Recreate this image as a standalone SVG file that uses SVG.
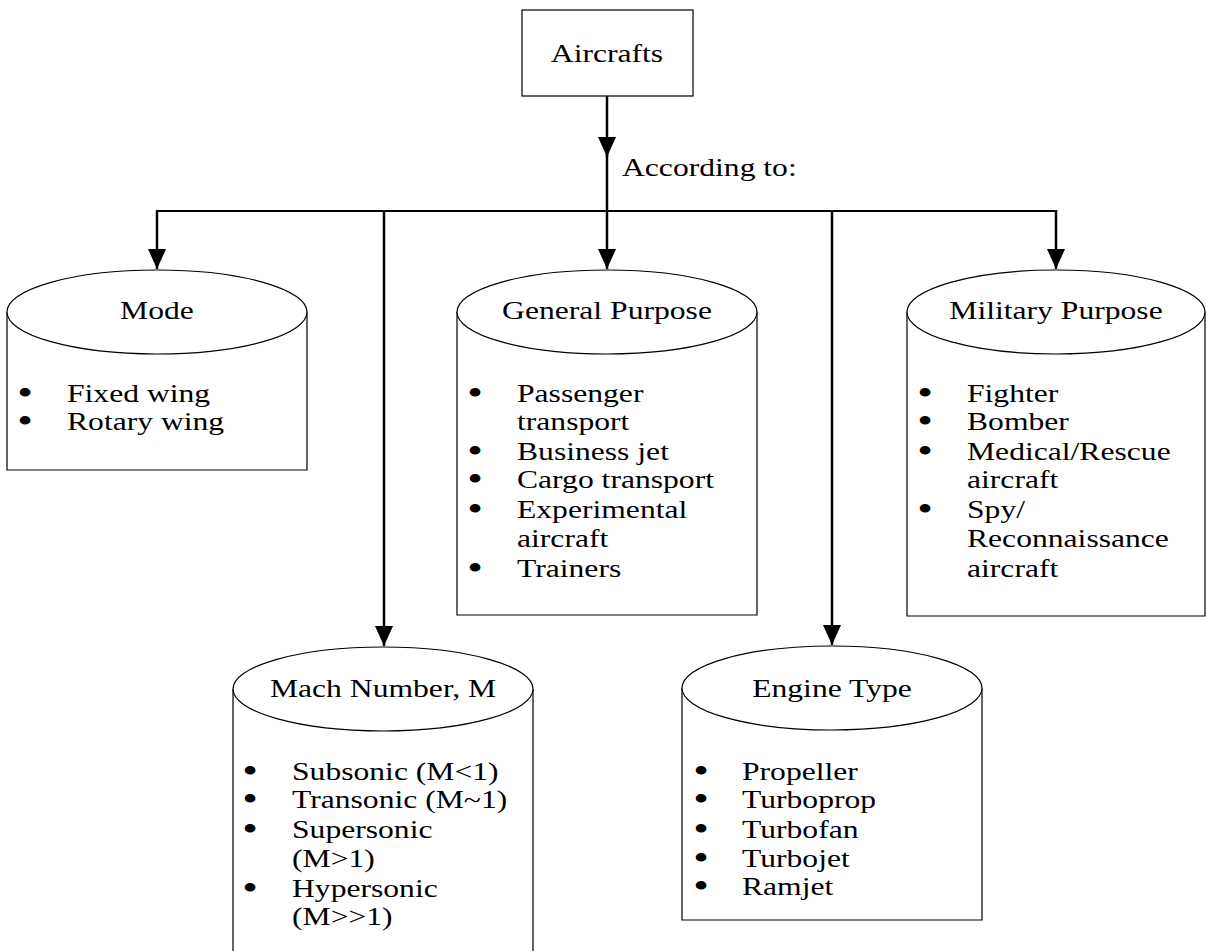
<svg xmlns="http://www.w3.org/2000/svg" width="1206" height="951" viewBox="0 0 1206 951">
<style>
text{font-family:"Liberation Serif","Times New Roman",serif;font-size:25.5px;fill:#000}
.c{text-anchor:middle}
.b{text-anchor:middle;font-size:36px}
.shape{fill:#fff;stroke:#000;stroke-width:1.2}
.conn{fill:none;stroke:#000;stroke-width:2.5}
.bus{fill:none;stroke:#000;stroke-width:2.2}
</style>
<defs>
<marker id="ah" viewBox="0 0 20 18" refX="20" refY="9" markerWidth="20" markerHeight="18" markerUnits="userSpaceOnUse" orient="auto">
<path d="M0,0 L20,9 L0,18 Z" fill="#000"/>
</marker>
</defs>
<rect width="1206" height="951" fill="#fff"/>

<g id="connectors">
<line class="conn" x1="607" y1="96" x2="607" y2="157" marker-end="url(#ah)"/>
<line class="conn" x1="607" y1="150" x2="607" y2="211"/>
<line class="bus" x1="156" y1="211" x2="1057" y2="211"/>
<line class="conn" x1="157" y1="210" x2="157" y2="269" marker-end="url(#ah)"/>
<line class="conn" x1="607" y1="210" x2="607" y2="269" marker-end="url(#ah)"/>
<line class="conn" x1="1056" y1="210" x2="1056" y2="269" marker-end="url(#ah)"/>
<line class="conn" x1="384" y1="210" x2="384" y2="646" marker-end="url(#ah)"/>
<line class="conn" x1="832" y1="210" x2="832" y2="645" marker-end="url(#ah)"/>
<text transform="translate(622,176) scale(1.24,1)">According to:</text>
</g>

<g id="aircrafts">
<rect class="shape" x="522" y="10" width="171" height="86"/>
<text class="c" transform="translate(607,62) scale(1.24,1)">Aircrafts</text>
</g>

<g id="mode">
<path class="shape" d="M7,312 L7,470 L307,470 L307,312"/>
<ellipse class="shape" cx="157" cy="312" rx="150" ry="42"/>
<text class="c" transform="translate(157,319) scale(1.24,1)">Mode</text>
<text class="b" transform="translate(25,405) scale(1.24,1)">•</text>
<text transform="translate(67,402) scale(1.24,1)">Fixed wing</text>
<text class="b" transform="translate(25,433) scale(1.24,1)">•</text>
<text transform="translate(67,430) scale(1.24,1)">Rotary wing</text>
</g>

<g id="general">
<path class="shape" d="M457,312 L457,615 L757,615 L757,312"/>
<ellipse class="shape" cx="607" cy="312" rx="150" ry="42"/>
<text class="c" transform="translate(607,319) scale(1.24,1)">General Purpose</text>
<text class="b" transform="translate(475,405) scale(1.24,1)">•</text>
<text transform="translate(517,402) scale(1.24,1)">Passenger</text>
<text transform="translate(517,430) scale(1.24,1)">transport</text>
<text class="b" transform="translate(475,463) scale(1.24,1)">•</text>
<text transform="translate(517,460) scale(1.24,1)">Business jet</text>
<text class="b" transform="translate(475,491) scale(1.24,1)">•</text>
<text transform="translate(517,488) scale(1.24,1)">Cargo transport</text>
<text class="b" transform="translate(475,521) scale(1.24,1)">•</text>
<text transform="translate(517,518) scale(1.24,1)">Experimental</text>
<text transform="translate(517,547) scale(1.24,1)">aircraft</text>
<text class="b" transform="translate(475,580) scale(1.24,1)">•</text>
<text transform="translate(517,577) scale(1.24,1)">Trainers</text>
</g>

<g id="military">
<path class="shape" d="M907,312 L907,616 L1205,616 L1205,312"/>
<ellipse class="shape" cx="1056" cy="312" rx="149" ry="42"/>
<text class="c" transform="translate(1056,319) scale(1.24,1)">Military Purpose</text>
<text class="b" transform="translate(925,405) scale(1.24,1)">•</text>
<text transform="translate(967,402) scale(1.24,1)">Fighter</text>
<text class="b" transform="translate(925,433) scale(1.24,1)">•</text>
<text transform="translate(967,430) scale(1.24,1)">Bomber</text>
<text class="b" transform="translate(925,463) scale(1.24,1)">•</text>
<text transform="translate(967,460) scale(1.24,1)">Medical/Rescue</text>
<text transform="translate(967,488) scale(1.24,1)">aircraft</text>
<text class="b" transform="translate(925,521) scale(1.24,1)">•</text>
<text transform="translate(967,518) scale(1.24,1)">Spy/</text>
<text transform="translate(967,547) scale(1.24,1)">Reconnaissance</text>
<text transform="translate(967,577) scale(1.24,1)">aircraft</text>
</g>

<g id="mach">
<path class="shape" d="M233,689 L233,952 M533,952 L533,689"/>
<ellipse class="shape" cx="383" cy="689" rx="150" ry="42"/>
<text class="c" transform="translate(383,697) scale(1.24,1)">Mach Number, M</text>
<text class="b" transform="translate(250,783) scale(1.24,1)">•</text>
<text transform="translate(292,780) scale(1.24,1)">Subsonic (M&lt;1)</text>
<text class="b" transform="translate(250,811) scale(1.24,1)">•</text>
<text transform="translate(292,808) scale(1.24,1)">Transonic (M~1)</text>
<text class="b" transform="translate(250,841) scale(1.24,1)">•</text>
<text transform="translate(292,838) scale(1.24,1)">Supersonic</text>
<text transform="translate(292,867) scale(1.24,1)">(M&gt;1)</text>
<text class="b" transform="translate(250,900) scale(1.24,1)">•</text>
<text transform="translate(292,897) scale(1.24,1)">Hypersonic</text>
<text transform="translate(292,925) scale(1.24,1)">(M&gt;&gt;1)</text>
</g>

<g id="engine">
<path class="shape" d="M682,688 L682,920 L982,920 L982,688"/>
<ellipse class="shape" cx="832" cy="688" rx="150" ry="42"/>
<text class="c" transform="translate(832,697) scale(1.24,1)">Engine Type</text>
<text class="b" transform="translate(701,783) scale(1.24,1)">•</text>
<text transform="translate(742,780) scale(1.24,1)">Propeller</text>
<text class="b" transform="translate(701,811) scale(1.24,1)">•</text>
<text transform="translate(742,808) scale(1.24,1)">Turboprop</text>
<text class="b" transform="translate(701,841) scale(1.24,1)">•</text>
<text transform="translate(742,838) scale(1.24,1)">Turbofan</text>
<text class="b" transform="translate(701,870) scale(1.24,1)">•</text>
<text transform="translate(742,867) scale(1.24,1)">Turbojet</text>
<text class="b" transform="translate(701,898) scale(1.24,1)">•</text>
<text transform="translate(742,895) scale(1.24,1)">Ramjet</text>
</g>
</svg>
